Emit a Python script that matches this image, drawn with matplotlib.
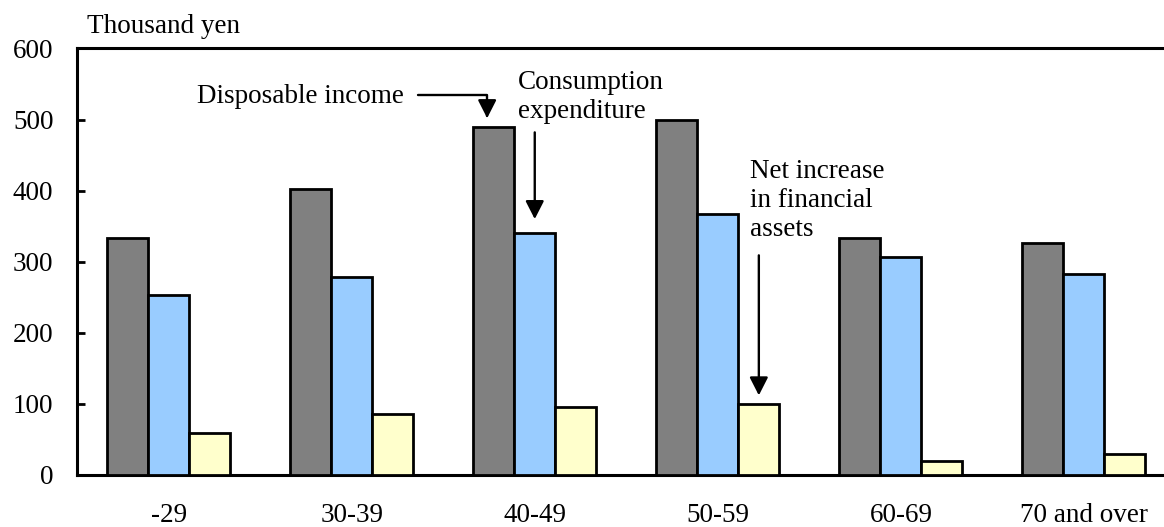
import numpy as np
import matplotlib
matplotlib.use("Agg")
import matplotlib.pyplot as plt

# monthly household budget by age of household head (thousand yen)
age_groups = ["-29", "30-39", "40-49", "50-59", "60-69", "70 and over"]
disposable_income = [333, 403, 489, 500, 333, 327]
consumption_expenditure = [253, 279, 341, 367, 306, 283]
financial_assets_increase = [59, 86, 96, 100, 20, 29]

colors = ["#808080", "#99CCFF", "#FFFFCC"]

plt.rcParams["font.family"] = ["Liberation Serif", "DejaVu Serif"]
plt.rcParams["font.size"] = 19.5

fig = plt.figure(figsize=(11.64, 5.27), dpi=100)
ax = fig.add_axes([0.0662, 0.0987, 0.9437, 0.8093])

x = np.arange(len(age_groups))
w = 0.224
series = [disposable_income, consumption_expenditure, financial_assets_increase]
for i, (vals, col) in enumerate(zip(series, colors)):
    ax.bar(x + (i - 1) * w, vals, width=w, color=col,
           edgecolor="black", linewidth=2.0, zorder=3)

ax.set_xlim(-0.5, len(age_groups) - 0.5)
ax.set_ylim(0, 600)
ax.set_yticks(range(0, 601, 100))
ax.set_xticks(x)
ax.set_xticklabels(age_groups)

ax.tick_params(axis="y", direction="in", length=6, width=2, pad=17)
ax.tick_params(axis="x", length=0, pad=20)
for side in ["left", "top", "bottom"]:
    ax.spines[side].set_linewidth(2.2)
ax.spines["right"].set_visible(False)

fig.text(0.0747, 0.949, "Thousand yen", ha="left", va="center")

arrow = dict(arrowstyle="-|>,head_length=0.55,head_width=0.28",
             mutation_scale=20, color="black", lw=1.7, shrinkA=0, shrinkB=0)

# labels pointing at the 40-49 and 50-59 bars
ax.text(0.156, 533, "Disposable income", ha="left", va="center")
ax.annotate("", xy=(1.74, 502), xytext=(1.363, 535),
            arrowprops=dict(arrow, connectionstyle="angle,angleA=0,angleB=90,rad=0"))

ax.text(1.91, 532, "Consumption\nexpenditure", ha="left", va="center",
        linespacing=1.2)
ax.annotate("", xy=(2.0, 360), xytext=(2.0, 482), arrowprops=arrow)

ax.text(3.178, 386, "Net increase\nin financial\nassets", ha="left", va="center",
        linespacing=1.2)
ax.annotate("", xy=(3 + w, 112), xytext=(3 + w, 309), arrowprops=arrow)

fig.savefig("out.png", dpi=100)
